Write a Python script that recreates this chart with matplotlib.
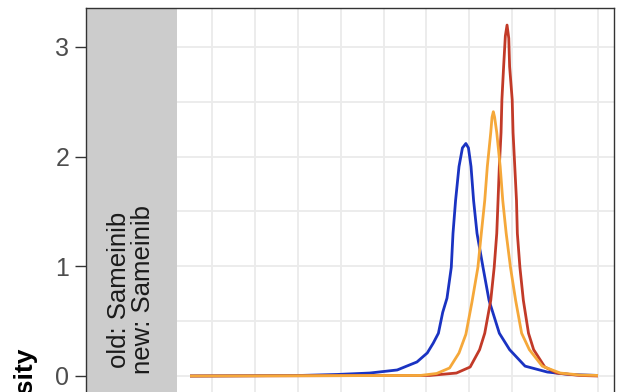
import matplotlib
matplotlib.use("Agg")
import matplotlib.pyplot as plt
from matplotlib.patches import Rectangle

# Density curves for the three groups
blue_x = [0.245, 1.53, 1.96, 2.34, 2.66, 2.89, 3.01, 3.08, 3.14, 3.19, 3.24, 3.29, 3.31,
          3.34, 3.38, 3.42, 3.46, 3.49, 3.52, 3.55, 3.59, 3.66, 3.73, 3.85, 3.97, 4.15,
          4.41, 4.67, 5.0]
blue_y = [0.0, 0.005, 0.014, 0.027, 0.055, 0.128, 0.21, 0.30, 0.39, 0.58, 0.71, 0.99, 1.30,
          1.60, 1.91, 2.08, 2.12, 2.08, 1.91, 1.60, 1.30, 0.99, 0.69, 0.39, 0.24, 0.09,
          0.036, 0.014, 0.005]

orange_x = [0.245, 2.93, 3.12, 3.27, 3.38, 3.46, 3.53, 3.60, 3.64, 3.68, 3.71, 3.75, 3.765,
            3.78, 3.795, 3.82, 3.86, 3.89, 3.93, 3.98, 4.04, 4.11, 4.20, 4.35, 4.56, 4.79, 5.0]
orange_y = [0.0, 0.005, 0.023, 0.073, 0.21, 0.38, 0.67, 0.99, 1.30, 1.60, 1.91, 2.22, 2.36,
            2.41, 2.36, 2.22, 1.91, 1.60, 1.30, 0.99, 0.69, 0.39, 0.24, 0.09, 0.027, 0.009, 0.005]

red_x = [0.245, 3.04, 3.35, 3.51, 3.62, 3.68, 3.75, 3.79, 3.82, 3.835, 3.85, 3.87, 3.88, 3.90,
         3.92, 3.94, 3.96, 3.97, 4.00, 4.01, 4.03, 4.05, 4.06, 4.09, 4.13, 4.19, 4.25, 4.38,
         4.52, 4.79, 5.0]
red_y = [0.0, 0.005, 0.027, 0.082, 0.24, 0.39, 0.69, 0.99, 1.30, 1.60, 1.91, 2.22, 2.52, 2.82,
         3.10, 3.20, 3.08, 2.82, 2.52, 2.22, 1.91, 1.60, 1.30, 0.99, 0.69, 0.39, 0.24, 0.082,
         0.027, 0.005, 0.0]

y_ticks = [0, 1, 2, 3]
strip_label = "old: Sameinib\nnew: Sameinib"
y_label = "Density"

W, H = 617, 392
fig = plt.figure(figsize=(W / 100, H / 100), dpi=100)
fig.patch.set_facecolor("white")

# panel (including the strip area on its left)
left_px, right_px, top_px, bottom_px = 86, 614, 8, 393.5
ax = fig.add_axes([left_px / W, (H - bottom_px) / H,
                   (right_px - left_px) / W, (bottom_px - top_px) / H])

ax.set_xlim(-0.9674, 5.1865)
ax.set_ylim(-0.1596, 3.3556)

grid_c = "#EBEBEB"
for gx in [i * 0.5 for i in range(-2, 11)]:
    ax.axvline(gx, color=grid_c, lw=1.3, zorder=0.5)
for gy in [i * 0.5 for i in range(0, 7)]:
    ax.axhline(gy, color=grid_c, lw=1.3, zorder=0.5)

# facet strip
strip_frac = (177 - left_px) / (right_px - left_px)
ax.add_patch(Rectangle((0, 0), strip_frac, 1, transform=ax.transAxes,
                       facecolor="#CCCCCC", edgecolor="none", zorder=1))

ax.plot(blue_x, blue_y, color="#1A33C2", lw=2.0, zorder=2, solid_capstyle="butt")
ax.plot(red_x, red_y, color="#C23A28", lw=2.0, zorder=2.1, solid_capstyle="butt")
ax.plot(orange_x, orange_y, color="#F5A83A", lw=2.0, zorder=2.2, solid_capstyle="butt")

for s in ax.spines.values():
    s.set_color("#333333")
    s.set_linewidth(1.0)

ax.set_xticks([])
ax.set_yticks(y_ticks)
ax.set_yticklabels([str(t) for t in y_ticks])
ax.tick_params(axis="y", length=8, width=1.0, color="#333333", pad=4,
               labelsize=18, labelcolor="#4D4D4D")
for lab in ax.get_yticklabels():
    lab.set_fontfamily("Liberation Sans")

fig.text(131.5 / W, (H - 290) / H, strip_label, rotation=90, ha="center", va="center",
         fontsize=18.5, family="Liberation Sans", color="#1A1A1A", linespacing=1.0,
         multialignment="center")

fig.text(24 / W, (H - 347) / H, y_label, rotation=90, ha="center", va="top",
         fontsize=19, family="Liberation Sans", fontweight="bold", color="black")

fig.savefig("out.png", dpi=100, facecolor="white")
